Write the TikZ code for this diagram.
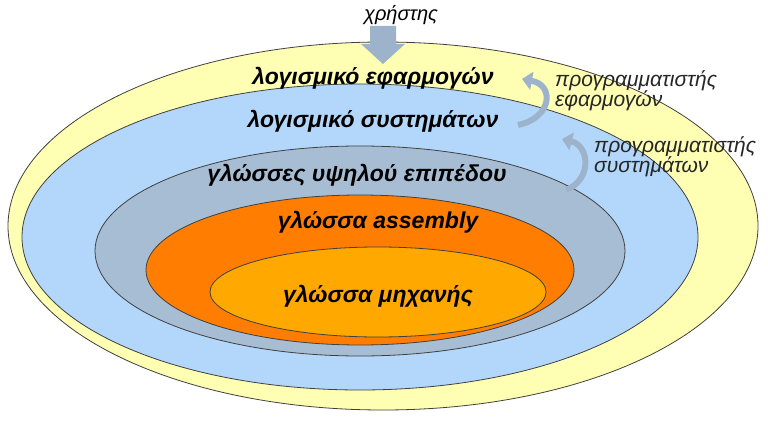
\documentclass[tikz,border=0pt]{standalone}
\usepackage{fontspec}
\setmainfont{Liberation Sans}
\usetikzlibrary{arrows.meta}
\definecolor{cyel}{HTML}{FFFFB3}
\definecolor{cblu}{HTML}{B3D7FA}
\definecolor{cgry}{HTML}{A7BDD3}
\definecolor{cora}{HTML}{FF7D00}
\definecolor{cin}{HTML}{FFA800}
\definecolor{carr}{HTML}{9DB3CB}
\tikzset{ring/.style={draw=black!75,line width=0.8pt},
 lay/.style={font=\fontsize{23}{26}\selectfont\bfseries\itshape},
 side/.style={font=\fontsize{21}{22}\selectfont\itshape,align=left,text=black!85,anchor=west,inner sep=0pt},
 carrow/.style={draw=carr,line width=6pt,-{Triangle[length=10pt,width=18pt]}}}
\begin{document}
\begin{tikzpicture}[x=1pt,y=-1pt]
\useasboundingbox (0,0) rectangle (768,425);
\fill[white] (0,0) rectangle (768,425);
\draw[ring,fill=cyel] (383,226) ellipse [x radius=375,y radius=184];
\draw[ring,fill=cblu] (360,237) ellipse [x radius=338,y radius=153];
\draw[ring,fill=cgry] (360,251) ellipse [x radius=265,y radius=105];
\draw[ring,fill=cora] (360,270) ellipse [x radius=214,y radius=75];
\draw[ring,fill=cin] (378,292) ellipse [x radius=168,y radius=45];
\node[lay] (l1) at (373,78) {λογισμικό εφαρμογών};
\node[lay] (l2) at (373,121) {λογισμικό συστημάτων};
\node[lay] (l3) at (357,175) {γλώσσες υψηλού επιπέδου};
\node[lay] (l4) at (378,222) {γλώσσα assembly};
\node[lay] (l5) at (378,296) {γλώσσα μηχανής};
\node[font=\fontsize{20}{22}\selectfont\itshape] (u) at (401,15) {χρήστης};
\fill[carr] (370,26) -- (396,26) -- (396,44) -- (405,44) -- (383,64) -- (361,44) -- (370,44) -- cycle;
\node[side] (s1) at (555,91) {προγραμματιστής\\[-2pt]εφαρμογών};
\node[side] (s2) at (594,157) {προγραμματιστής\\[-2pt]συστημάτων};
\coordinate (a1s) at (518,125);
\coordinate (a1e) at (522,79);
\coordinate (a2s) at (566,190);
\coordinate (a2e) at (562,139);
\draw[carrow] (a1s) .. controls (552,118) and (555,85) .. (a1e);
\draw[carrow] (a2s) .. controls (592,180) and (590,146) .. (a2e);
\end{tikzpicture}
\end{document}
